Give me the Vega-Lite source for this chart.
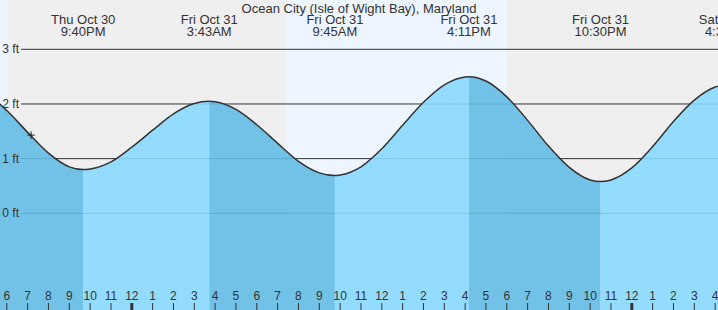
{
  "$schema": "https://vega.github.io/schema/vega-lite/v6.json",
  "width": 718,
  "height": 310,
  "autosize": {"type": "none"},
  "padding": 0,
  "background": "white",
  "config": {"view": {"stroke": null}, "font": "Liberation Sans"},
  "datasets": {
    "sun": [
      {"s": "2025-10-30T12:00:00", "e": "2025-10-30T18:01:00", "k": "day"},
      {"s": "2025-10-30T18:01:00", "e": "2025-10-31T07:25:00", "k": "night"},
      {"s": "2025-10-31T07:25:00", "e": "2025-10-31T18:00:00", "k": "day"},
      {"s": "2025-10-31T18:00:00", "e": "2025-11-01T07:25:00", "k": "night"}
    ],
    "grid": [{"ft": 0, "lab": "0 ft"}, {"ft": 1, "lab": "1 ft"}, {"ft": 2, "lab": "2 ft"}, {"ft": 3, "lab": "3 ft"}],
    "hours": [
      {"t": "2025-10-30T18:00:00", "h": "6", "mid": 0},
      {"t": "2025-10-30T19:00:00", "h": "7", "mid": 0},
      {"t": "2025-10-30T20:00:00", "h": "8", "mid": 0},
      {"t": "2025-10-30T21:00:00", "h": "9", "mid": 0},
      {"t": "2025-10-30T22:00:00", "h": "10", "mid": 0},
      {"t": "2025-10-30T23:00:00", "h": "11", "mid": 0},
      {"t": "2025-10-31T00:00:00", "h": "12", "mid": 1},
      {"t": "2025-10-31T01:00:00", "h": "1", "mid": 0},
      {"t": "2025-10-31T02:00:00", "h": "2", "mid": 0},
      {"t": "2025-10-31T03:00:00", "h": "3", "mid": 0},
      {"t": "2025-10-31T04:00:00", "h": "4", "mid": 0},
      {"t": "2025-10-31T05:00:00", "h": "5", "mid": 0},
      {"t": "2025-10-31T06:00:00", "h": "6", "mid": 0},
      {"t": "2025-10-31T07:00:00", "h": "7", "mid": 0},
      {"t": "2025-10-31T08:00:00", "h": "8", "mid": 0},
      {"t": "2025-10-31T09:00:00", "h": "9", "mid": 0},
      {"t": "2025-10-31T10:00:00", "h": "10", "mid": 0},
      {"t": "2025-10-31T11:00:00", "h": "11", "mid": 0},
      {"t": "2025-10-31T12:00:00", "h": "12", "mid": 0},
      {"t": "2025-10-31T13:00:00", "h": "1", "mid": 0},
      {"t": "2025-10-31T14:00:00", "h": "2", "mid": 0},
      {"t": "2025-10-31T15:00:00", "h": "3", "mid": 0},
      {"t": "2025-10-31T16:00:00", "h": "4", "mid": 0},
      {"t": "2025-10-31T17:00:00", "h": "5", "mid": 0},
      {"t": "2025-10-31T18:00:00", "h": "6", "mid": 0},
      {"t": "2025-10-31T19:00:00", "h": "7", "mid": 0},
      {"t": "2025-10-31T20:00:00", "h": "8", "mid": 0},
      {"t": "2025-10-31T21:00:00", "h": "9", "mid": 0},
      {"t": "2025-10-31T22:00:00", "h": "10", "mid": 0},
      {"t": "2025-10-31T23:00:00", "h": "11", "mid": 0},
      {"t": "2025-11-01T00:00:00", "h": "12", "mid": 1},
      {"t": "2025-11-01T01:00:00", "h": "1", "mid": 0},
      {"t": "2025-11-01T02:00:00", "h": "2", "mid": 0},
      {"t": "2025-11-01T03:00:00", "h": "3", "mid": 0},
      {"t": "2025-11-01T04:00:00", "h": "4", "mid": 0}
    ],
    "tide": [
      {"t": "2025-10-30T16:00:00", "v": 2.30, "seg": "A", "phase": "fall", "dup": 0},
      {"t": "2025-10-30T17:00:00", "v": 2.19, "seg": "A", "phase": "fall", "dup": 0},
      {"t": "2025-10-30T18:00:00", "v": 1.88, "seg": "A", "phase": "fall", "dup": 0},
      {"t": "2025-10-30T19:00:00", "v": 1.48, "seg": "A", "phase": "fall", "dup": 0},
      {"t": "2025-10-30T20:00:00", "v": 1.10, "seg": "A", "phase": "fall", "dup": 0},
      {"t": "2025-10-30T21:00:00", "v": 0.85, "seg": "A", "phase": "fall", "dup": 0},
      {"t": "2025-10-30T21:40:00", "v": 0.80, "seg": "A", "phase": "fall", "dup": 0},
      {"t": "2025-10-30T21:40:00", "v": 0.80, "seg": "B", "phase": "rise", "dup": 1},
      {"t": "2025-10-30T22:00:00", "v": 0.81, "seg": "B", "phase": "rise", "dup": 0},
      {"t": "2025-10-30T23:00:00", "v": 0.94, "seg": "B", "phase": "rise", "dup": 0},
      {"t": "2025-10-31T00:00:00", "v": 1.21, "seg": "B", "phase": "rise", "dup": 0},
      {"t": "2025-10-31T01:00:00", "v": 1.52, "seg": "B", "phase": "rise", "dup": 0},
      {"t": "2025-10-31T02:00:00", "v": 1.82, "seg": "B", "phase": "rise", "dup": 0},
      {"t": "2025-10-31T03:00:00", "v": 2.01, "seg": "B", "phase": "rise", "dup": 0},
      {"t": "2025-10-31T03:43:00", "v": 2.05, "seg": "B", "phase": "rise", "dup": 0},
      {"t": "2025-10-31T03:43:00", "v": 2.05, "seg": "C", "phase": "fall", "dup": 1},
      {"t": "2025-10-31T04:00:00", "v": 2.04, "seg": "C", "phase": "fall", "dup": 0},
      {"t": "2025-10-31T05:00:00", "v": 1.90, "seg": "C", "phase": "fall", "dup": 0},
      {"t": "2025-10-31T06:00:00", "v": 1.62, "seg": "C", "phase": "fall", "dup": 0},
      {"t": "2025-10-31T07:00:00", "v": 1.28, "seg": "C", "phase": "fall", "dup": 0},
      {"t": "2025-10-31T08:00:00", "v": 0.95, "seg": "C", "phase": "fall", "dup": 0},
      {"t": "2025-10-31T09:00:00", "v": 0.74, "seg": "C", "phase": "fall", "dup": 0},
      {"t": "2025-10-31T09:45:00", "v": 0.69, "seg": "C", "phase": "fall", "dup": 0},
      {"t": "2025-10-31T09:45:00", "v": 0.69, "seg": "D", "phase": "rise", "dup": 1},
      {"t": "2025-10-31T10:00:00", "v": 0.70, "seg": "D", "phase": "rise", "dup": 0},
      {"t": "2025-10-31T11:00:00", "v": 0.85, "seg": "D", "phase": "rise", "dup": 0},
      {"t": "2025-10-31T12:00:00", "v": 1.18, "seg": "D", "phase": "rise", "dup": 0},
      {"t": "2025-10-31T13:00:00", "v": 1.61, "seg": "D", "phase": "rise", "dup": 0},
      {"t": "2025-10-31T14:00:00", "v": 2.03, "seg": "D", "phase": "rise", "dup": 0},
      {"t": "2025-10-31T15:00:00", "v": 2.35, "seg": "D", "phase": "rise", "dup": 0},
      {"t": "2025-10-31T16:00:00", "v": 2.495, "seg": "D", "phase": "rise", "dup": 0},
      {"t": "2025-10-31T16:11:00", "v": 2.50, "seg": "D", "phase": "rise", "dup": 0},
      {"t": "2025-10-31T16:11:00", "v": 2.50, "seg": "E", "phase": "fall", "dup": 1},
      {"t": "2025-10-31T17:00:00", "v": 2.42, "seg": "E", "phase": "fall", "dup": 0},
      {"t": "2025-10-31T18:00:00", "v": 2.13, "seg": "E", "phase": "fall", "dup": 0},
      {"t": "2025-10-31T19:00:00", "v": 1.70, "seg": "E", "phase": "fall", "dup": 0},
      {"t": "2025-10-31T20:00:00", "v": 1.23, "seg": "E", "phase": "fall", "dup": 0},
      {"t": "2025-10-31T21:00:00", "v": 0.84, "seg": "E", "phase": "fall", "dup": 0},
      {"t": "2025-10-31T22:00:00", "v": 0.61, "seg": "E", "phase": "fall", "dup": 0},
      {"t": "2025-10-31T22:30:00", "v": 0.58, "seg": "E", "phase": "fall", "dup": 0},
      {"t": "2025-10-31T22:30:00", "v": 0.58, "seg": "F", "phase": "rise", "dup": 1},
      {"t": "2025-10-31T23:00:00", "v": 0.61, "seg": "F", "phase": "rise", "dup": 0},
      {"t": "2025-11-01T00:00:00", "v": 0.83, "seg": "F", "phase": "rise", "dup": 0},
      {"t": "2025-11-01T01:00:00", "v": 1.22, "seg": "F", "phase": "rise", "dup": 0},
      {"t": "2025-11-01T02:00:00", "v": 1.68, "seg": "F", "phase": "rise", "dup": 0},
      {"t": "2025-11-01T03:00:00", "v": 2.07, "seg": "F", "phase": "rise", "dup": 0},
      {"t": "2025-11-01T04:00:00", "v": 2.31, "seg": "F", "phase": "rise", "dup": 0},
      {"t": "2025-11-01T04:35:00", "v": 2.35, "seg": "F", "phase": "rise", "dup": 0}
    ],
    "labels": [
      {"t": "2025-10-30T21:40:00", "lab": "Thu Oct 30\n9:40PM"},
      {"t": "2025-10-31T03:43:00", "lab": "Fri Oct 31\n3:43AM"},
      {"t": "2025-10-31T09:45:00", "lab": "Fri Oct 31\n9:45AM"},
      {"t": "2025-10-31T16:11:00", "lab": "Fri Oct 31\n4:11PM"},
      {"t": "2025-10-31T22:30:00", "lab": "Fri Oct 31\n10:30PM"},
      {"t": "2025-11-01T04:35:00", "lab": "Sat Nov 1\n4:35AM"}
    ],
    "now": [{"t": "2025-10-30T19:10:00", "v": 1.43}],
    "title": [{"name": "Ocean City (Isle of Wight Bay), Maryland"}]
  },
  "layer": [
    {
      "data": {"name": "sun"},
      "mark": {"type": "rect", "clip": true, "opacity": 1},
      "encoding": {
        "x": {
          "field": "s", "type": "temporal", "axis": null,
          "scale": {"domain": [
            {"year": 2025, "month": 10, "date": 30, "hours": 17, "minutes": 40, "seconds": 25},
            {"year": 2025, "month": 11, "date": 1, "hours": 4, "minutes": 8, "seconds": 15}
          ]}
        },
        "x2": {"field": "e"},
        "fill": {"field": "k", "type": "nominal", "scale": {"domain": ["day", "night"], "range": ["#edf6ff", "#efefef"]}, "legend": null}
      }
    },
    {
      "data": {"name": "grid"},
      "mark": {"type": "rule", "clip": true, "color": "#333333", "strokeWidth": 1},
      "encoding": {
        "y": {"field": "ft", "type": "quantitative", "axis": null},
        "x": {"datum": {"year": 2025, "month": 10, "date": 30, "hours": 18, "minutes": 41}, "type": "temporal", "axis": null},
        "x2": {"datum": {"year": 2025, "month": 11, "date": 1, "hours": 5, "minutes": 0}}
      }
    },
    {
      "data": {"name": "tide"},
      "mark": {"type": "area", "interpolate": "monotone", "clip": true, "opacity": 0.9},
      "encoding": {
        "x": {"field": "t", "type": "temporal", "axis": null},
        "y": {
          "field": "v", "type": "quantitative", "stack": null, "axis": null,
          "scale": {"domain": [-1.769, 3.902], "nice": false, "zero": false}
        },
        "y2": {"datum": -1.769},
        "color": {"field": "phase", "type": "nominal", "scale": {"domain": ["fall", "rise"], "range": ["#64bce5", "#89d9ff"]}, "legend": null},
        "detail": {"field": "seg"}
      }
    },
    {
      "data": {"name": "tide"},
      "transform": [{"filter": "datum.dup != 1"}],
      "mark": {"type": "line", "interpolate": "monotone", "clip": true, "color": "#333333", "strokeWidth": 1.5},
      "encoding": {
        "x": {"field": "t", "type": "temporal", "axis": null},
        "y": {"field": "v", "type": "quantitative", "axis": null}
      }
    },
    {
      "data": {"name": "now"},
      "mark": {"type": "point", "shape": "M-1,0H1M0,-1V1", "size": 56, "filled": false, "stroke": "#222222", "strokeWidth": 1, "opacity": 1},
      "encoding": {
        "x": {"field": "t", "type": "temporal", "axis": null},
        "y": {"field": "v", "type": "quantitative", "axis": null}
      }
    },
    {
      "data": {"name": "grid"},
      "mark": {"type": "text", "font": "Liberation Sans", "fontSize": 12, "color": "#333333", "align": "right", "baseline": "middle"},
      "encoding": {
        "x": {"datum": {"year": 2025, "month": 10, "date": 30, "hours": 18, "minutes": 35, "seconds": 10}, "type": "temporal", "axis": null},
        "y": {"field": "ft", "type": "quantitative", "axis": null},
        "text": {"field": "lab"}
      }
    },
    {
      "data": {"name": "hours"},
      "mark": {"type": "rule", "clip": true, "color": "#333333"},
      "encoding": {
        "x": {"field": "t", "type": "temporal", "axis": null},
        "y": {"datum": -1.80, "type": "quantitative", "axis": null},
        "y2": {"datum": -1.641},
        "strokeWidth": {"condition": {"test": "datum.mid == 1", "value": 3}, "value": 1}
      }
    },
    {
      "data": {"name": "hours"},
      "mark": {"type": "text", "clip": true, "font": "Liberation Sans", "fontSize": 12, "color": "#333333", "align": "center", "baseline": "alphabetic"},
      "encoding": {
        "x": {"field": "t", "type": "temporal", "axis": null},
        "y": {"datum": -1.586, "type": "quantitative", "axis": null},
        "text": {"field": "h"}
      }
    },
    {
      "data": {"name": "labels"},
      "mark": {"type": "text", "clip": true, "font": "Liberation Sans", "fontSize": 13, "color": "#333333", "align": "center", "baseline": "alphabetic", "lineBreak": "\n", "lineHeight": 12},
      "encoding": {
        "x": {"field": "t", "type": "temporal", "axis": null},
        "y": {"datum": 3.457, "type": "quantitative", "axis": null},
        "text": {"field": "lab"}
      }
    },
    {
      "data": {"name": "title"},
      "mark": {"type": "text", "font": "Liberation Sans", "fontSize": 13, "color": "#333333", "align": "center", "baseline": "alphabetic"},
      "encoding": {
        "x": {"datum": {"year": 2025, "month": 10, "date": 31, "hours": 10, "minutes": 54, "seconds": 20}, "type": "temporal", "axis": null},
        "y": {"datum": 3.664, "type": "quantitative", "axis": null},
        "text": {"field": "name"}
      }
    }
  ]
}
